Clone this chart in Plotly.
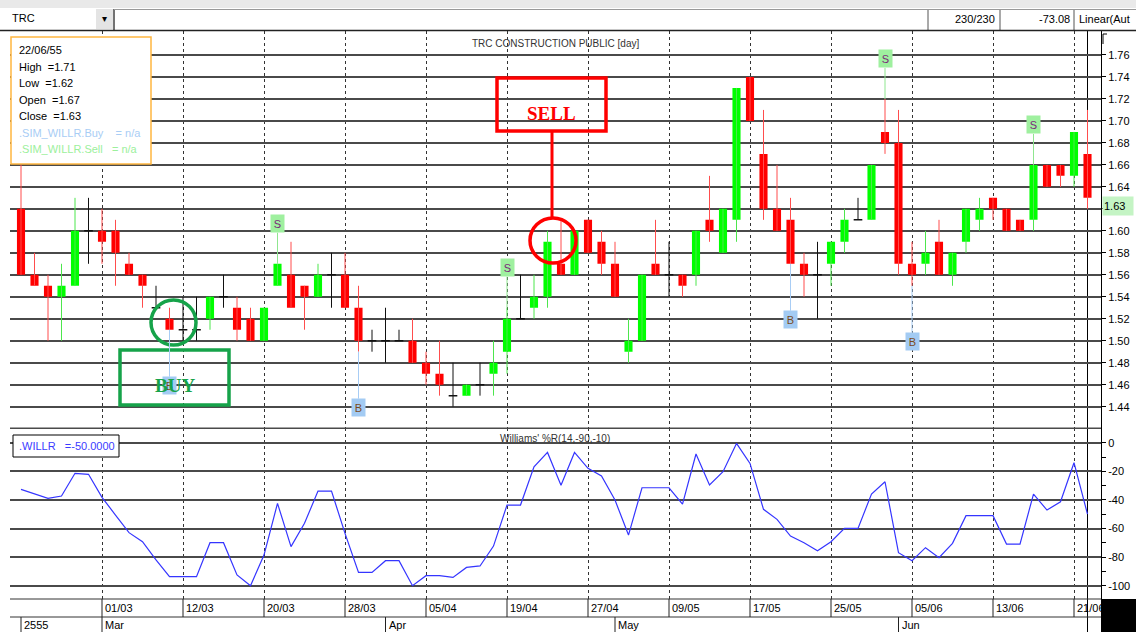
import plotly.graph_objects as go

# ---------------- data ----------------
open_ = [1.62, 1.56, 1.55, 1.54, 1.55, 1.60, 1.60, 1.60, 1.57, 1.56,
         1.53, 1.52, 1.51, 1.51, 1.52, 1.54, 1.53, 1.52, 1.50, 1.55,
         1.56, 1.55, 1.54, 1.56, 1.56, 1.53, 1.50, 1.50, 1.50, 1.50,
         1.48, 1.47, 1.45, 1.45, 1.46, 1.47, 1.49, 1.52, 1.53, 1.54,
         1.57, 1.56, 1.61, 1.59, 1.57, 1.49, 1.50, 1.57, 1.56, 1.56,
         1.56, 1.61, 1.58, 1.61, 1.74, 1.67, 1.62, 1.61, 1.57, 1.56,
         1.57, 1.59, 1.61, 1.61, 1.69, 1.68, 1.57, 1.57, 1.59, 1.56,
         1.59, 1.61, 1.63, 1.62, 1.61, 1.61, 1.66, 1.66, 1.65, 1.67]
high = [1.66, 1.58, 1.56, 1.57, 1.63, 1.63, 1.62, 1.61, 1.58, 1.56,
        1.55, 1.53, 1.54, 1.54, 1.54, 1.56, 1.54, 1.53, 1.53, 1.57,
        1.59, 1.55, 1.57, 1.58, 1.58, 1.55, 1.51, 1.53, 1.51, 1.52,
        1.49, 1.50, 1.48, 1.46, 1.48, 1.50, 1.53, 1.56, 1.56, 1.60,
        1.61, 1.60, 1.61, 1.60, 1.59, 1.52, 1.56, 1.61, 1.59, 1.56,
        1.60, 1.65, 1.62, 1.73, 1.74, 1.71, 1.66, 1.63, 1.58, 1.59,
        1.59, 1.62, 1.63, 1.66, 1.72, 1.71, 1.59, 1.60, 1.61, 1.58,
        1.62, 1.63, 1.63, 1.62, 1.61, 1.66, 1.66, 1.66, 1.69, 1.71]
low = [1.56, 1.55, 1.50, 1.50, 1.55, 1.57, 1.57, 1.55, 1.56, 1.53,
       1.53, 1.51, 1.50, 1.50, 1.51, 1.53, 1.50, 1.50, 1.50, 1.55,
       1.53, 1.51, 1.54, 1.53, 1.53, 1.49, 1.49, 1.48, 1.50, 1.48,
       1.46, 1.45, 1.44, 1.45, 1.45, 1.45, 1.47, 1.52, 1.52, 1.53,
       1.56, 1.56, 1.58, 1.56, 1.54, 1.48, 1.50, 1.56, 1.54, 1.54,
       1.55, 1.59, 1.58, 1.59, 1.70, 1.61, 1.60, 1.57, 1.54, 1.52,
       1.55, 1.58, 1.61, 1.61, 1.67, 1.56, 1.55, 1.56, 1.56, 1.55,
       1.58, 1.60, 1.61, 1.60, 1.60, 1.60, 1.64, 1.64, 1.64, 1.62]
close = [1.56, 1.55, 1.54, 1.55, 1.60, 1.60, 1.59, 1.58, 1.56, 1.55,
         1.53, 1.51, 1.51, 1.51, 1.54, 1.54, 1.51, 1.50, 1.53, 1.57,
         1.53, 1.54, 1.56, 1.56, 1.53, 1.50, 1.50, 1.50, 1.50, 1.48,
         1.47, 1.46, 1.45, 1.46, 1.46, 1.48, 1.52, 1.52, 1.54, 1.59,
         1.56, 1.60, 1.58, 1.57, 1.54, 1.50, 1.56, 1.56, 1.56, 1.55,
         1.60, 1.60, 1.62, 1.73, 1.70, 1.62, 1.60, 1.57, 1.56, 1.56,
         1.59, 1.61, 1.61, 1.66, 1.68, 1.57, 1.56, 1.58, 1.56, 1.58,
         1.62, 1.62, 1.62, 1.60, 1.60, 1.66, 1.64, 1.65, 1.69, 1.63]
willr = [-32.6, -35.9, -38.9, -37.3, -21.4, -22.1, -38.2, -50.6, -62.9, -69.2,
         -82.0, -93.7, -93.7, -93.7, -69.9, -69.9, -92.5, -100.0, -78.6, -42.4,
         -72.7, -56.4, -33.8, -33.8, -63.4, -90.7, -90.7, -82.5, -82.5, -100.0,
         -93.0, -93.0, -94.2, -87.2, -86.2, -72.3, -43.6, -43.6, -16.8, -6.8,
         -29.8, -6.8, -17.9, -23.3, -40.1, -64.6, -31.5, -31.5, -31.5, -42.9,
         -7.9, -29.6, -20.3, -0.5, -14.5, -46.6, -53.6, -65.3, -69.9, -75.5,
         -69.2, -59.9, -59.9, -35.9, -27.3, -76.9, -82.5, -73.4, -80.4, -70.4,
         -51.0, -51.0, -51.0, -70.9, -70.9, -35.9, -47.1, -41.3, -14.0, -50.0]
buy_bars = [11, 25, 57, 66]
sell_bars = [19, 36, 64, 75]
tick_bars = [6, 12, 18, 24, 30, 36, 42, 48, 54, 60, 66, 72, 78]
tick_labels = ["01/03", "12/03", "20/03", "28/03", "05/04", "19/04", "27/04",
               "09/05", "17/05", "25/05", "05/06", "13/06", "21/06"]
month_bars = [0, 6, 27, 44, 65]
month_labels = ["2555", "Mar", "Apr", "May", "Jun"]
price_ticks = [1.44, 1.46, 1.48, 1.50, 1.52, 1.54, 1.56, 1.58, 1.60,
               1.62, 1.64, 1.66, 1.68, 1.70, 1.72, 1.74, 1.76]
willr_ticks = [0, -20, -40, -60, -80, -100]
willr_minor = [-10, -30, -50, -70, -90]
last_date = "22/06/55"
symbol = "TRC"
title = "TRC CONSTRUCTION PUBLIC [day]"
indicator = "Williams' %R(14,-90,-10)"

# ---------------- helpers ----------------
W, H = 1136, 632
def px(x): return x / W
def py(y): return 1 - y / H

FONT = "Liberation Sans Narrow, Arial Narrow, Liberation Sans, Arial, sans-serif"
SERIF = "Liberation Serif, Times New Roman, DejaVu Serif, serif"
FS = 11
RED, GREEN = "#ff0000", "#00ff00"

n = len(close)
xs = list(range(n))
up = [i for i in xs if close[i] > open_[i]]
dn = [i for i in xs if close[i] < open_[i]]
dj = [i for i in xs if close[i] == open_[i]]

def wicks(idx):
    X, Y = [], []
    for i in idx:
        X += [i, i, None]
        Y += [low[i], high[i], None]
    return X, Y

fig = go.Figure()
for idx, col in ((dn, "#ff4d4d"), (up, "#4de64d"), (dj, "#111111")):
    X, Y = wicks(idx)
    fig.add_trace(go.Scatter(x=X, y=Y, mode="lines", line=dict(color=col, width=1),
                             xaxis="x", yaxis="y", hoverinfo="skip", showlegend=False))
DX, DY = [], []
for i in dj:
    DX += [i - 0.32, i + 0.32, None]
    DY += [open_[i], open_[i], None]
fig.add_trace(go.Scatter(x=DX, y=DY, mode="lines", line=dict(color="#111111", width=1.5),
                         xaxis="x", yaxis="y", hoverinfo="skip", showlegend=False))
fig.add_trace(go.Bar(x=dn, y=[open_[i] - close[i] for i in dn], base=[close[i] for i in dn],
                     width=0.6, marker=dict(color=RED, line=dict(width=0)),
                     xaxis="x", yaxis="y", showlegend=False))
fig.add_trace(go.Bar(x=up, y=[close[i] - open_[i] for i in up], base=[open_[i] for i in up],
                     width=0.6, marker=dict(color=GREEN, line=dict(width=0)),
                     xaxis="x", yaxis="y", showlegend=False))
fig.add_trace(go.Scatter(x=xs, y=willr, mode="lines", line=dict(color="#3535ff", width=1.2),
                         xaxis="x2", yaxis="y2", showlegend=False))

XR = [-0.815, 80.0]
XD = [px(10), px(1101)]
grid_x = dict(domain=XD, range=XR, tickvals=tick_bars, showticklabels=False, ticks="",
              showgrid=True, gridcolor="#333333", griddash="dot", gridwidth=1,
              zeroline=False, showline=False, fixedrange=True)

shapes, ann = [], []

# cursor line on the last bar
shapes.append(dict(type="line", xref="x", yref="paper", x0=n - 1, x1=n - 1,
                   y0=py(30.5), y1=0, line=dict(color="black", width=1), layer="below"))
# toolbar
shapes.append(dict(type="rect", xref="paper", yref="paper", x0=0, x1=1, y0=py(8), y1=1,
                   fillcolor="#e9e9e9", line=dict(width=0)))
shapes.append(dict(type="rect", xref="paper", yref="paper", x0=px(96), x1=px(113), y0=py(29), y1=py(9),
                   fillcolor="#e4e4e4", line=dict(width=0)))
shapes.append(dict(type="line", xref="paper", yref="paper", x0=px(114), x1=px(114), y0=py(30), y1=py(9),
                   line=dict(color="#444", width=1.5)))
shapes.append(dict(type="line", xref="paper", yref="paper", x0=px(114), x1=1, y0=py(9.5), y1=py(9.5),
                   line=dict(color="#999", width=1)))
for xx in (928, 1000, 1074):
    shapes.append(dict(type="line", xref="paper", yref="paper", x0=px(xx), x1=px(xx), y0=py(30), y1=py(10),
                       line=dict(color="#555", width=1)))
shapes.append(dict(type="line", xref="paper", yref="paper", x0=px(0), x1=1, y0=py(30.5), y1=py(30.5),
                   line=dict(color="#222", width=1.5)))
# top bracket of the price scale
shapes.append(dict(type="path", xref="paper", yref="paper",
                   path=f"M {px(1107)},{py(34)} L {px(1103)},{py(34)} L {px(1103)},{py(44)}",
                   line=dict(color="black", width=1)))
# panel separator
shapes.append(dict(type="line", xref="paper", yref="paper", x0=px(10), x1=px(1101), y0=py(428.3), y1=py(428.3),
                   line=dict(color="#4a4a4a", width=1.5)))
# date rows
for yy in (599, 617):
    shapes.append(dict(type="line", xref="paper", yref="paper", x0=px(10), x1=px(1101), y0=py(yy), y1=py(yy),
                       line=dict(color="#333", width=1)))
for b in tick_bars:
    shapes.append(dict(type="line", xref="x", yref="paper", x0=b, x1=b, y0=py(599), y1=py(617),
                       line=dict(color="#222", width=1)))
for b in month_bars:
    shapes.append(dict(type="line", xref="x", yref="paper", x0=b, x1=b, y0=py(617), y1=0,
                       line=dict(color="#222", width=1)))
shapes.append(dict(type="rect", xref="paper", yref="paper", x0=px(1101), x1=1, y0=0, y1=py(599),
                   fillcolor="black", line=dict(width=0)))
# info box
shapes.append(dict(type="rect", xref="paper", yref="paper", x0=px(11), x1=px(151), y0=py(164), y1=py(37),
                   fillcolor="white", line=dict(color="#ffb640", width=1.5)))
# willr box
shapes.append(dict(type="rect", xref="paper", yref="paper", x0=px(13), x1=px(119), y0=py(457), y1=py(435),
                   fillcolor="white", line=dict(color="black", width=1)))
# SELL / BUY hand drawn marks
shapes.append(dict(type="rect", xref="paper", yref="paper", x0=px(497), x1=px(606), y0=py(131), y1=py(78),
                   line=dict(color="#ff0000", width=3.5)))
shapes.append(dict(type="line", xref="paper", yref="paper", x0=px(552), x1=px(552), y0=py(218), y1=py(131),
                   line=dict(color="#ff0000", width=3)))
shapes.append(dict(type="circle", xref="paper", yref="paper", x0=px(530), x1=px(576), y0=py(263), y1=py(218),
                   line=dict(color="#ff0000", width=3.5)))
shapes.append(dict(type="rect", xref="paper", yref="paper", x0=px(120), x1=px(229), y0=py(405), y1=py(350),
                   line=dict(color="#16a34a", width=3.5)))
shapes.append(dict(type="circle", xref="paper", yref="paper", x0=px(151), x1=px(196), y0=py(345), y1=py(300),
                   line=dict(color="#16a34a", width=3.5)))

def text(x, y, s, size=FS, color="black", xanchor="left", family=FONT, **kw):
    d = dict(x=x, y=y, xref="paper", yref="paper", text=s, showarrow=False, xanchor=xanchor,
             yanchor="middle", font=dict(size=size, color=color, family=family))
    d.update(kw)
    return d

NB = "\u00a0"
ann.append(text(px(10), py(18), symbol))
ann.append(text(px(104.5), py(18), "\u25be", size=10, xanchor="center"))
ann.append(text(px(997), py(19), "230/230", xanchor="right"))
ann.append(text(px(1072), py(19), "-73.08", xanchor="right"))
ann.append(text(px(1077), py(19), "Linear(Aut"))
ann.append(text(px(555), py(43), title, size=10, color="#333", xanchor="center"))
ann.append(text(px(555), py(438), indicator, size=10, color="#333", xanchor="center"))

info = [(last_date, "black"),
        (f"High{NB}{NB}={high[-1]:.2f}", "black"),
        (f"Low{NB}{NB}={low[-1]:.2f}", "black"),
        (f"Open{NB}{NB}={open_[-1]:.2f}", "black"),
        (f"Close{NB}{NB}={close[-1]:.2f}", "black"),
        (f".SIM_WILLR.Buy{NB}{NB}{NB}{NB}= n/a", "#a8cdf5"),
        (f".SIM_WILLR.Sell{NB}{NB}{NB}= n/a", "#9cf09c")]
for k, (s, c) in enumerate(info):
    ann.append(text(px(17), py(50 + k * 16.5), s, color=c))
ann.append(text(px(17), py(446), f".WILLR{NB}{NB}{NB}={willr[-1]:.4f}", color="#3b3bff"))

for b, lab in zip(tick_bars, tick_labels):
    ann.append(dict(x=b, y=py(608), xref="x", yref="paper", text=lab, showarrow=False, xanchor="left",
                    yanchor="middle", xshift=1, font=dict(size=FS, color="black", family=FONT)))
for b, lab in zip(month_bars, month_labels):
    ann.append(dict(x=b, y=py(625), xref="x", yref="paper", text=lab, showarrow=False, xanchor="left",
                    yanchor="middle", xshift=1, font=dict(size=FS, color="black", family=FONT)))

# current price tag (it hides the scale label it sits on)
ann.append(dict(x=px(1101.5), y=close[-1], xref="paper", yref="y", text=f"{close[-1]:.2f}", showarrow=False,
                xanchor="left", yanchor="top", yshift=2, bgcolor="#c4f4c4", width=28, height=16,
                align="left", font=dict(size=FS, color="black", family=FONT)))
price_text = ["" if 0 < close[-1] - v < 0.015 else f"{v:.2f}" for v in price_ticks]

# signal markers
for i in sell_bars:
    ann.append(dict(x=i, y=high[i], xref="x", yref="y", text="S", showarrow=True, arrowhead=0,
                    arrowwidth=1, arrowcolor="#8fe68f", ax=0, ay=-40, bgcolor="#9ff09f",
                    width=11, height=15, borderpad=1,
                    font=dict(size=11, color="#7a2a7a", family=FONT)))
for i in buy_bars:
    ann.append(dict(x=i, y=low[i], xref="x", yref="y", text="B", showarrow=True, arrowhead=0,
                    arrowwidth=1, arrowcolor="#a8cdf5", ax=0, ay=56, bgcolor="#a3cbf3",
                    width=11, height=15, borderpad=1,
                    font=dict(size=11, color="#7b4a1c", family=FONT)))

ann.append(text(px(551), py(113), "<b>SELL</b>", size=19, color="#ff0000", xanchor="center", family=SERIF))
ann.append(text(px(175), py(385), "<b>BUY</b>", size=19, color="#16a34a", xanchor="center", family=SERIF))

fig.update_layout(
    width=W, height=H, margin=dict(l=0, r=0, t=0, b=0),
    paper_bgcolor="white", plot_bgcolor="rgba(0,0,0,0)",
    barmode="overlay", showlegend=False, hovermode=False,
    xaxis=dict(anchor="y", **grid_x),
    xaxis2=dict(anchor="y2", matches="x", **grid_x),
    yaxis=dict(domain=[py(428.3), py(30.7)], range=[1.4203, 1.7821], side="right", anchor="x",
               tickvals=price_ticks, ticktext=price_text,
               ticks="outside", ticklen=4, tickcolor="black", showline=True, linecolor="black",
               linewidth=1, showgrid=True, gridcolor="#4a4a4a", gridwidth=1.5, zeroline=False,
               tickfont=dict(size=FS, color="black", family=FONT), fixedrange=True),
    yaxis2=dict(domain=[py(599), py(428.3)], range=[-109.3, 10.07], side="right", anchor="x2",
                tickvals=willr_ticks, ticktext=[str(v) for v in willr_ticks],
                ticks="outside", ticklen=4, tickcolor="black", showline=True, linecolor="black",
                linewidth=1, showgrid=True, gridcolor="#4a4a4a", gridwidth=1.5, zeroline=False,
                minor=dict(tickvals=willr_minor, ticks="outside", ticklen=4, tickcolor="black", showgrid=False),
                tickfont=dict(size=FS, color="black", family=FONT), fixedrange=True),
    shapes=shapes, annotations=ann,
)
fig.write_html("out.html", config={"displayModeBar": False},
               post_script="document.body.style.margin='0';document.body.style.overflow='hidden';")
